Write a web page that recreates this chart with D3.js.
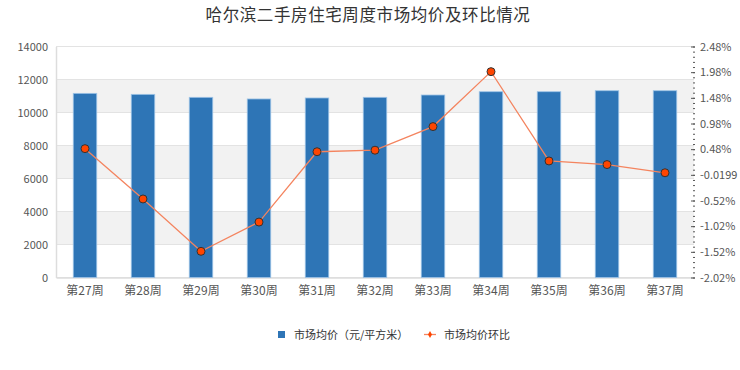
<!doctype html>
<html lang="zh">
  <head>
    <meta charset="utf-8">
    <title>哈尔滨二手房住宅周度市场均价及环比情况</title>
    <style>
      body { margin: 0; background: #fff; }
      #chart text { font-family: "Noto Sans CJK SC", "DejaVu Sans", sans-serif; }
    </style>
  </head>
  <body>
    <div id="chart"></div>

    <script src="https://d3js.org/d3.v7.min.js"></script>
    <script>
      // Data
      var weeks = ["第27周", "第28周", "第29周", "第30周", "第31周", "第32周", "第33周", "第34周", "第35周", "第36周", "第37周"];
      var avgPrice = [11160, 11100, 10920, 10820, 10880, 10920, 11060, 11260, 11260, 11320, 11320];
      var momChange = [0.49, -0.49, -1.51, -0.94, 0.43, 0.46, 0.92, 1.99, 0.25, 0.18, 0.02];
      var leftTicks = [0, 2000, 4000, 6000, 8000, 10000, 12000, 14000];
      var rightTicks = [2.48, 1.98, 1.48, 0.98, 0.48, -0.02, -0.52, -1.02, -1.52, -2.02];
      var rightLabels = ["2.48%", "1.98%", "1.48%", "0.98%", "0.48%", "-0.0199", "-0.52%", "-1.02%", "-1.52%", "-2.02%"];

      // Set params
      var W = 740, H = 370;
      var margin = {top: 46.5, right: 46, bottom: 92.5, left: 56},
          width = W - margin.left - margin.right,
          height = H - margin.top - margin.bottom;

      var svg = d3.select("#chart")
        .append("svg")
        .attr("width", W)
        .attr("height", H);

      // Title
      svg.append("text")
        .attr("x", 368)
        .attr("y", 21)
        .attr("text-anchor", "middle")
        .attr("font-size", "16.5px")
        .attr("fill", "#333")
        .attr("letter-spacing", "0.6px")
        .text("哈尔滨二手房住宅周度市场均价及环比情况");

      var g = svg.append("g")
        .attr("transform", "translate(" + margin.left + "," + margin.top + ")");

      // Scales
      var x = d3.scaleBand()
        .domain(weeks)
        .range([0, width]);

      var y = d3.scaleLinear()
        .domain([0, 14000])
        .range([height, 0]);

      var y2 = d3.scaleLinear()
        .domain([-2.02, 2.48])
        .range([height, 0]);

      // Alternating grey bands
      for (var i = 0; i < leftTicks.length - 1; i++) {
        if (i % 2 == 1) {
          g.append("rect")
            .attr("x", 0)
            .attr("y", y(leftTicks[i + 1]))
            .attr("width", width)
            .attr("height", y(leftTicks[i]) - y(leftTicks[i + 1]))
            .attr("fill", "#f2f2f2");
        }
      }

      // Grid lines
      g.selectAll(".grid")
        .data(leftTicks)
        .enter()
        .append("line")
        .attr("x1", 0)
        .attr("x2", width)
        .attr("y1", function(d) { return y(d); })
        .attr("y2", function(d) { return y(d); })
        .attr("stroke", "#e3e3e3")
        .attr("stroke-width", 1);

      // Left axis
      var leftAxis = g.append("g")
        .call(d3.axisLeft(y).tickValues(leftTicks).tickSize(0).tickPadding(8).tickFormat(d3.format("d")));
      leftAxis.select(".domain").attr("stroke", "#ddd").attr("stroke-width", 1.5);
      leftAxis.selectAll("text").attr("font-size", "11px").attr("fill", "#555");

      // Bottom axis
      var bottomAxis = g.append("g")
        .attr("transform", "translate(0," + height + ")")
        .call(d3.axisBottom(x).tickSize(0).tickPadding(9));
      bottomAxis.select(".domain").attr("stroke", "#ddd").attr("stroke-width", 1.5);
      bottomAxis.selectAll("text").attr("font-size", "12px").attr("fill", "#555");

      // Right axis with minor ticks
      var axisX = width + 1;
      var minorTicks = d3.range(0, 46).map(function(k) { return -2.02 + k * 0.1; });
      var rightMinor = g.append("g")
        .attr("transform", "translate(" + axisX + ",0)")
        .call(d3.axisLeft(y2).tickValues(minorTicks).tickSize(2).tickFormat(""));
      rightMinor.select(".domain").remove();
      rightMinor.selectAll("line").attr("stroke", "#555");

      var rightAxis = g.append("g")
        .attr("transform", "translate(" + axisX + ",0)")
        .call(d3.axisRight(y2).tickValues(rightTicks).tickSize(0).tickPadding(5)
          .tickFormat(function(d, i) { return rightLabels[i]; }));
      rightAxis.select(".domain").remove();
      rightAxis.selectAll("text").attr("font-size", "11px").attr("fill", "#555");
      g.append("g")
        .attr("transform", "translate(" + axisX + ",0)")
        .call(d3.axisLeft(y2).tickValues(rightTicks).tickSize(4).tickFormat(""))
        .call(function(a) { a.select(".domain").remove(); a.selectAll("line").attr("stroke", "#555"); });

      // Bars
      var bw = 23.5;
      g.selectAll(".bar")
        .data(avgPrice)
        .enter()
        .append("rect")
        .attr("x", function(d, i) { return x(weeks[i]) + x.bandwidth() / 2 - bw / 2; })
        .attr("y", function(d) { return y(d); })
        .attr("width", bw)
        .attr("height", function(d) { return height - y(d); })
        .attr("fill", "#2e75b6")
        .attr("stroke", "#9dc3e6")
        .attr("stroke-width", 0.8);

      // Line
      var line = d3.line()
        .x(function(d, i) { return x(weeks[i]) + x.bandwidth() / 2; })
        .y(function(d) { return y2(d); });

      g.append("path")
        .datum(momChange)
        .attr("d", line)
        .attr("fill", "none")
        .attr("stroke", "#f4845f")
        .attr("stroke-width", 1.3);

      g.selectAll(".dot")
        .data(momChange)
        .enter()
        .append("circle")
        .attr("cx", function(d, i) { return x(weeks[i]) + x.bandwidth() / 2; })
        .attr("cy", function(d) { return y2(d); })
        .attr("r", 4)
        .attr("fill", "#ff4500")
        .attr("stroke", "#333")
        .attr("stroke-width", 1);

      // Legend
      var legend = svg.append("g");
      legend.append("rect")
        .attr("x", 278).attr("y", 331)
        .attr("width", 7).attr("height", 7)
        .attr("fill", "#2e75b6");
      legend.append("text")
        .attr("x", 294).attr("y", 338.5)
        .attr("font-size", "11px").attr("fill", "#333")
        .text("市场均价（元/平方米）");
      legend.append("line")
        .attr("x1", 424).attr("x2", 436)
        .attr("y1", 334.5).attr("y2", 334.5)
        .attr("stroke", "#f4845f").attr("stroke-width", 1.3);
      legend.append("path")
        .attr("d", d3.symbol().type(d3.symbolDiamond).size(14)())
        .attr("transform", "translate(430,334.5)")
        .attr("fill", "#ff4500");
      legend.append("text")
        .attr("x", 444).attr("y", 338.5)
        .attr("font-size", "11px").attr("fill", "#333")
        .text("市场均价环比");
    </script>
  </body>
</html>
